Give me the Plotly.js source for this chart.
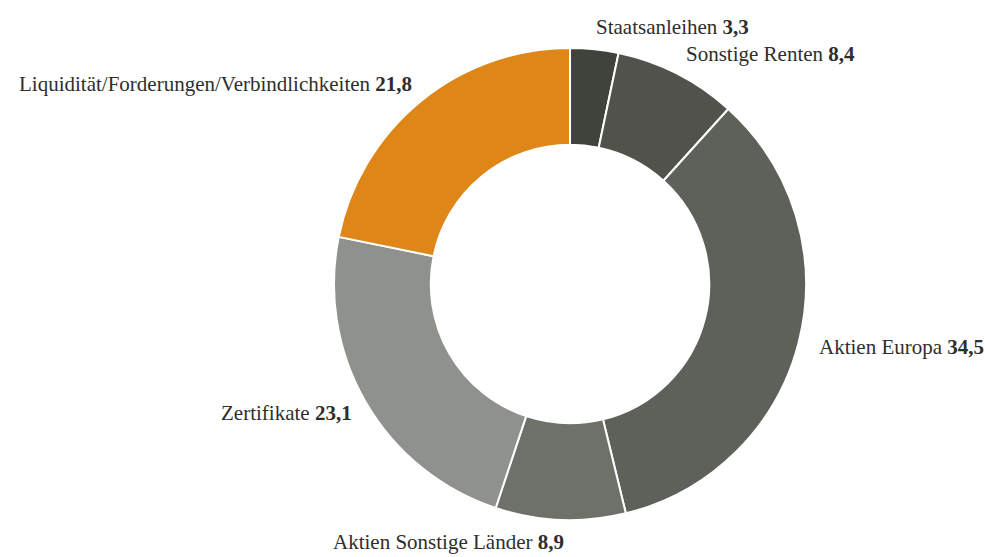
<!DOCTYPE html>
<html>
<head>
<meta charset="utf-8">
<script src="https://cdn.plot.ly/plotly-3.0.1.min.js"></script>
<style>html,body{margin:0;padding:0;background:#fff;}#chart{width:985px;height:557px;}</style>
</head>
<body>
<div id="chart"></div>
<script>
const categories = ["Staatsanleihen", "Sonstige Renten", "Aktien Europa", "Aktien Sonstige Länder", "Zertifikate", "Liquidität/Forderungen/Verbindlichkeiten"];
const values = [3.3, 8.4, 34.5, 8.9, 23.1, 21.8];
const colors = ["#3f433c", "#50524b", "#5e605a", "#6e706a", "#8f918c", "#df8618"];

const W = 985, H = 557;
const domX = [0.3391, 0.8183];
const domY = [0.0664, 0.9138];

const trace = {
  type: "pie",
  labels: categories,
  values: values,
  sort: false,
  direction: "clockwise",
  rotation: 0,
  hole: 0.59,
  marker: {colors: colors, line: {color: "#ffffff", width: 2}},
  textinfo: "none",
  automargin: false,
  showlegend: false,
  hoverinfo: "label+value",
  domain: {x: domX, y: domY}
};

// label placement derived from the pie geometry and slice mid-angles
const cx = (domX[0] + domX[1]) / 2 * W;
const cy = (1 - (domY[0] + domY[1]) / 2) * H;
const radius = Math.min((domX[1] - domX[0]) * W, (domY[1] - domY[0]) * H) / 2;
const labelR = radius + 22;
const total = values.reduce((a, b) => a + b, 0);
let cum = 0;
const annotations = values.map((v, i) => {
  const mid = (cum + v / 2) / total * 2 * Math.PI;
  cum += v;
  const px = cx + labelR * Math.sin(mid);
  const py = cy - labelR * Math.cos(mid);
  const right = Math.sin(mid) >= 0;
  return {
    xref: "paper", yref: "paper",
    x: px / W, y: 1 - py / H,
    xanchor: right ? "left" : "right",
    yanchor: "middle",
    xshift: right ? -3 : 7,
    showarrow: false,
    text: categories[i] + " <b>" + v.toFixed(1).replace(".", ",") + "</b>",
    font: {family: "Liberation Serif, serif", size: 21, color: "#2e2e2e"}
  };
});

const layout = {
  width: W,
  height: H,
  margin: {l: 0, r: 0, t: 0, b: 0},
  separators: ",.",
  paper_bgcolor: "#ffffff",
  plot_bgcolor: "#ffffff",
  showlegend: false,
  annotations: annotations
};

Plotly.newPlot("chart", [trace], layout, {displayModeBar: false, staticPlot: true});
</script>
</body>
</html>
